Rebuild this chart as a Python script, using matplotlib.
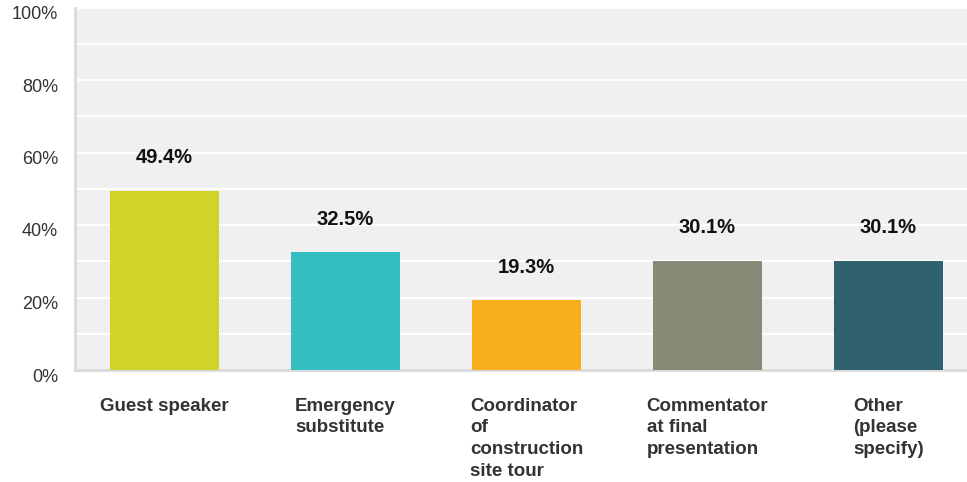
import matplotlib
matplotlib.use("Agg")
import matplotlib.pyplot as plt

categories = ["Guest speaker", "Emergency\nsubstitute", "Coordinator\nof\nconstruction\nsite tour",
              "Commentator\nat final\npresentation", "Other\n(please\nspecify)"]
values = [49.4, 32.5, 19.3, 30.1, 30.1]
value_labels = ["49.4%", "32.5%", "19.3%", "30.1%", "30.1%"]
colors = ["#D0D42A", "#35BEC1", "#F7AF20", "#8A8A79", "#2F616E"]
yticks = [0, 20, 40, 60, 80, 100]
ytick_labels = ["0%", "20%", "40%", "60%", "80%", "100%"]

plt.rcParams['font.family'] = ['Liberation Sans', 'DejaVu Sans']

fig = plt.figure(figsize=(9.67, 4.82), dpi=100)
ax = fig.add_axes([75/967, 1-370/482, 1-75/967, (370-7.5)/482])
ax.set_facecolor("#F0F0F0")

x = list(range(len(categories)))
ax.bar(x, values, width=0.602, color=colors, zorder=3)
for xi, v, lab in zip(x, values, value_labels):
    ax.annotate(lab, (xi, v), xytext=(0, 33), textcoords="offset pixels",
                ha="center", va="center", fontsize=14.5, fontweight="bold",
                color="#111111", zorder=4)

ax.set_xlim(-0.4945, 4.434)
ax.set_ylim(0, 100)
for g in range(10, 101, 10):
    ax.axhline(g, color="white", lw=1.5, zorder=1)

ax.set_yticks(yticks)
ax.set_yticklabels([])
ax.tick_params(axis="y", length=0)
ytrans = ax.get_yaxis_transform()
for yv, lab in zip(yticks, ytick_labels):
    ax.annotate(lab, (0, yv), xycoords=ytrans, xytext=(-17, -7),
                textcoords="offset pixels", ha="right", va="center",
                fontsize=13, color="#333333", annotation_clip=False)

ax.set_xticks(x)
ax.set_xticklabels(categories, fontsize=13.5, fontweight="bold", color="#333333",
                   linespacing=1.36, va="top", ha="center", multialignment="left")
ax.tick_params(axis="x", length=0, pad=20)

for s in ["top", "right"]:
    ax.spines[s].set_visible(False)
ax.spines["left"].set_color("#D9D9D9")
ax.spines["left"].set_linewidth(2)
ax.spines["bottom"].set_color("#D9D9D9")
ax.spines["bottom"].set_linewidth(2)
ax.spines["left"].set_zorder(5)

fig.savefig("out.png", dpi=100)
